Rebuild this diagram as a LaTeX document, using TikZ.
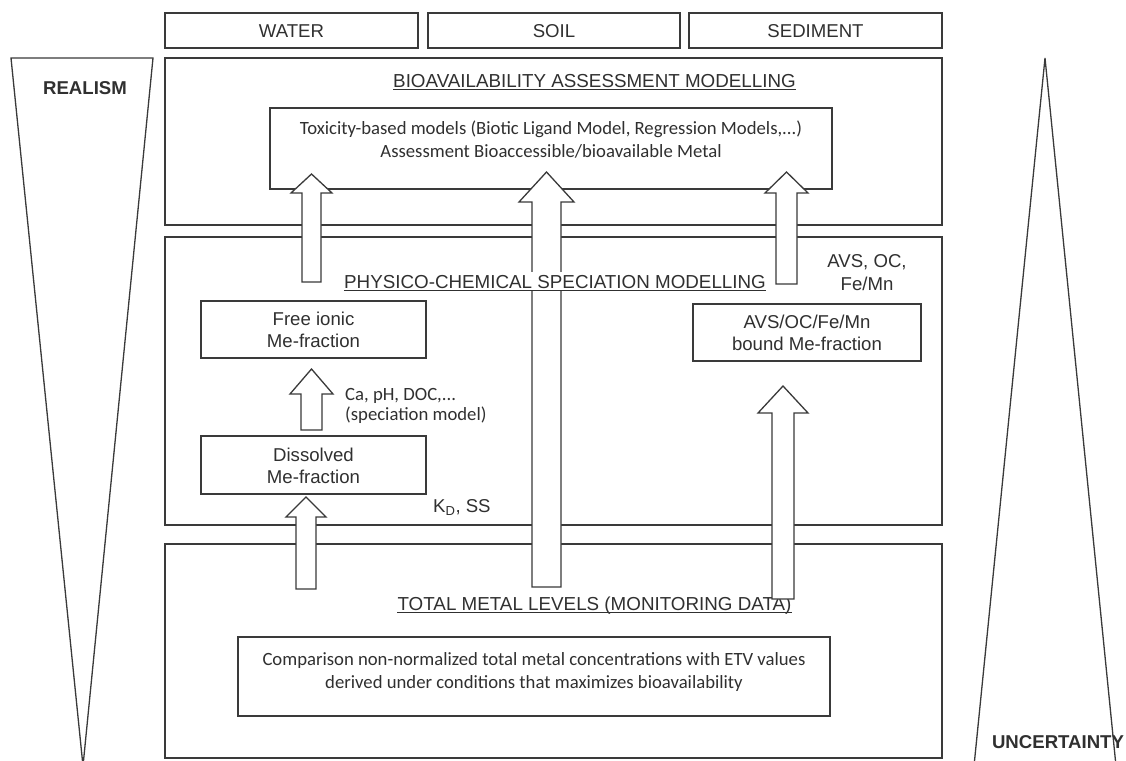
\documentclass[tikz,border=0pt]{standalone}
\usepackage{fontspec}
\setmainfont{Liberation Sans}
\newfontfamily\carl{Carlito}
\definecolor{ink}{HTML}{3A3A3A}
\definecolor{txt}{HTML}{303030}

% upright block arrow: centre x, bottom y, head-base y, apex y, shaft half width, head half width
\newcommand{\uparrowblk}[6]{%
  \draw[blockarrow] (#1-#5,#2) -- (#1-#5,#3) -- (#1-#6,#3) -- (#1,#4)
    -- (#1+#6,#3) -- (#1+#5,#3) -- (#1+#5,#2) -- cycle;}

\begin{document}
\begin{tikzpicture}[x=1pt,y=-1pt,
  frame/.style={draw=ink, line width=1.3pt, inner sep=0pt},
  wedge/.style={draw=ink, line width=1.3pt, line join=miter},
  blockarrow/.style={draw=ink, line width=1.3pt, fill=white, line join=miter},
  lab/.style={text=txt, inner sep=0pt, font=\fontsize{18.6}{22}\selectfont},
  small/.style={text=txt, inner sep=0pt, align=center, font=\fontsize{18.6}{22}\selectfont},
  calib/.style={text=txt, inner sep=0pt, align=center, font=\carl\fontsize{18.7}{23}\selectfont},
  heading/.style={text=txt, inner sep=0pt, anchor=base, font=\fontsize{18.8}{22}\selectfont},
  uline/.style={draw=txt, line width=1pt},
  side/.style={text=txt, inner sep=0pt, anchor=base, font=\bfseries\fontsize{18.6}{22}\selectfont}]

\useasboundingbox[fill=white] (0,0) rectangle (1126,760);

% realism / uncertainty wedges
\draw[wedge] (11,58) -- (153,58) -- (83,766) -- cycle;
\draw[wedge] (1045,58) -- (1116,766) -- (974,766) -- cycle;
\node[side] (realism) at (85,94) {REALISM};
\node[side] (uncert) at (1058,748) {UNCERTAINTY};

% compartments
\node[frame, minimum width=253pt, minimum height=35pt] (water) at (291.5,30.5) {};
\node[frame, minimum width=252pt, minimum height=35pt] (soil) at (554,30.5) {};
\node[frame, minimum width=253pt, minimum height=35pt] (sediment) at (815.5,30.5) {};
\node[lab, anchor=base] (waterT) at (291.5,37.5) {WATER};
\node[lab, anchor=base] (soilT) at (554,37.5) {SOIL};
\node[lab, anchor=base] (sedT) at (815.5,37.5) {SEDIMENT};

% three tiers
\node[frame, minimum width=777pt, minimum height=167pt] (bio) at (553.5,141.5) {};
\node[frame, minimum width=777pt, minimum height=288pt] (spec) at (553.5,381) {};
\node[frame, minimum width=777pt, minimum height=214pt] (total) at (553.5,651) {};

% tier headings
\node[heading] (bioh) at (594.5,87) {BIOAVAILABILITY ASSESSMENT MODELLING};
\draw[uline] ([yshift=-2.5pt]bioh.base west) -- ([yshift=-2.5pt]bioh.base east);
\node[heading] (totalh) at (594.5,610) {TOTAL METAL LEVELS (MONITORING DATA)};
\draw[uline] ([yshift=-2.5pt]totalh.base west) -- ([yshift=-2.5pt]totalh.base east);

% inner boxes
\node[frame, minimum width=562pt, minimum height=81pt] (tox) at (551,148.5) {};
\node[calib, anchor=base] (toxA) at (551,134) {Toxicity-based models (Biotic Ligand Model, Regression Models,...)};
\node[calib, anchor=base] (toxB) at (551,157) {Assessment Bioaccessible/bioavailable Metal};

\node[frame, minimum width=225pt, minimum height=57pt] (free) at (313.5,329.5) {};
\node[small, anchor=base] (freeA) at (313.5,325) {Free ionic};
\node[small, anchor=base] (freeB) at (313.5,347) {Me-fraction};

\node[frame, minimum width=225pt, minimum height=58pt] (diss) at (313.5,465) {};
\node[small, anchor=base] (dissA) at (313.5,461) {Dissolved};
\node[small, anchor=base] (dissB) at (313.5,483) {Me-fraction};

\node[frame, minimum width=228pt, minimum height=57pt] (avs) at (807,332.5) {};
\node[small, anchor=base] (avsA) at (807,328) {AVS/OC/Fe/Mn};
\node[small, anchor=base] (avsB) at (807,350) {bound Me-fraction};

\node[frame, minimum width=592pt, minimum height=79pt] (comp) at (534,676.5) {};
\node[calib, anchor=base] (compA) at (534,665) {Comparison non-normalized total metal concentrations with ETV values};
\node[calib, anchor=base] (compB) at (534,688) {derived under conditions that maximizes bioavailability};

% side labels
\node[calib, anchor=base west, align=left] (caA) at (345,400) {Ca, pH, DOC,...};
\node[calib, anchor=base west, align=left] (caB) at (345,420) {(speciation model)};
\node[small, anchor=base west] (kd) at (433,512) {K\textsubscript{D}, SS};
\node[small, anchor=base] (ocA) at (867,267) {AVS, OC,};
\node[small, anchor=base] (ocB) at (867,290) {Fe/Mn};

% block arrows, drawn over the frames
\uparrowblk{311.5}{282}{193}{174}{9.5}{20.5}
\uparrowblk{546.5}{587}{202}{172}{14.5}{27.5}
\uparrowblk{786.5}{284}{193}{172}{10.5}{21.5}
\uparrowblk{311.5}{430}{394}{369}{10.5}{21.5}
\uparrowblk{306}{589}{517}{497}{10}{20}
\uparrowblk{783}{599}{413}{386}{11}{25}

% the speciation heading sits on a white ground across the central arrow
\node[heading, fill=white, inner ysep=3pt, inner xsep=0pt] (spech) at (555,288) {PHYSICO-CHEMICAL SPECIATION MODELLING};
\draw[uline] ([yshift=-2.5pt]spech.base west) -- ([yshift=-2.5pt]spech.base east);

\end{tikzpicture}
\end{document}
